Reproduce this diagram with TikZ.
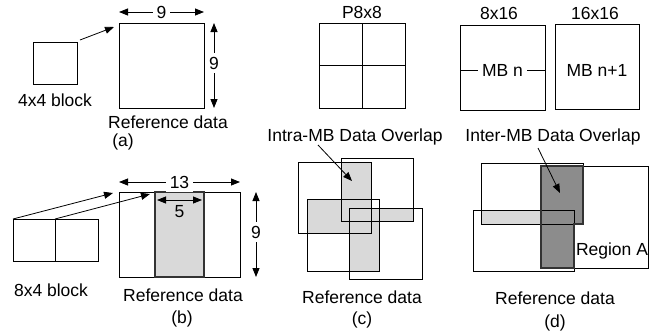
\documentclass[tikz,border=0pt]{standalone}
\usepackage{fontspec}
\setmainfont{Liberation Sans}
\usetikzlibrary{arrows.meta}
\begin{document}
\begin{tikzpicture}[x=1pt,y=-1pt,
  every node/.style={font=\fontsize{17.5}{20}\selectfont, inner sep=0pt},
  box/.style={draw=black, line width=0.9pt, fill=none},
  arr/.style={-{Triangle[length=9pt,width=7pt]}, line width=0.8pt},
  dim/.style={{Triangle[length=9pt,width=7pt]}-{Triangle[length=9pt,width=7pt]}, line width=0.8pt},
  lab/.style={fill=white, inner sep=4pt},
  lgray/.style={fill=black!15},
  dgray/.style={fill=black!45},
  ovl/.style={draw=black!80, line width=1.3pt}]
\useasboundingbox (0,0) rectangle (656,333);

% ---------- (a)
\draw[box] (33,42) rectangle (77,84);
\coordinate (sa) at (80,40);
\coordinate (ta) at (114,27);
\draw[arr] (sa) -- (ta);
\draw[box] (119,23) rectangle (204,108);
\coordinate (ah1) at (119,12); \coordinate (ah2) at (204,12);
\draw[dim] (ah1) -- (ah2);
\node[lab] (a9h) at (161.5,12) {9};
\coordinate (av1) at (214,23); \coordinate (av2) at (214,108);
\draw[dim] (av1) -- (av2);
\node[lab] (a9v) at (214,63) {9};
\node (a4x4) at (55,100) {4x4 block};
\node (aref) at (168,122) {Reference data};
\node (acap) at (123,142) {(a)};

% ---------- (b)
\draw[box] (13,219) rectangle (55,261);
\draw[box] (55,219) rectangle (98,261);
\draw[box] (119,192) rectangle (240,277);
\draw[lgray, ovl] (155,192) rectangle (204,277);
\coordinate (bs1) at (13,219); \coordinate (bt1) at (113,193);
\coordinate (bs2) at (55,219); \coordinate (bt2) at (150,194);
\draw[arr] (bs1) -- (bt1);
\draw[arr] (bs2) -- (bt2);
\coordinate (bh1) at (119,182); \coordinate (bh2) at (240,182);
\draw[dim] (bh1) -- (bh2);
\node[lab] (b13) at (179.5,182) {13};
\coordinate (b51) at (157,200); \coordinate (b52) at (202,200);
\draw[dim] (b51) -- (b52);
\node (b5) at (179.5,212) {5};
\coordinate (bv1) at (256,192); \coordinate (bv2) at (256,277);
\draw[dim] (bv1) -- (bv2);
\node[lab] (b9v) at (256,232) {9};
\node (b8x4) at (51,290) {8x4 block};
\node (bref) at (183,295) {Reference data};
\node (bcap) at (182,319) {(b)};

% ---------- (c)
\node (cp) at (362,12) {P8x8};
\draw[box] (319,23) rectangle (405,108);
\draw[box] (362,23) -- (362,108);
\draw[box] (319,65.5) -- (405,65.5);
\node (cintra) at (355,137) {Intra-MB Data Overlap};
% overlap fills
\fill[lgray] (341,162) rectangle (371,221);
\fill[lgray] (307,199) rectangle (371,233);
\fill[lgray] (349,208) rectangle (413,221);
\fill[lgray] (349,208) rectangle (379,271);
% outlines
\draw[box] (298,162) rectangle (371,233);
\draw[box] (341,158) rectangle (413,221);
\draw[box] (307,199) rectangle (379,271);
\draw[box] (349,208) rectangle (422,279);
\coordinate (cs) at (318,145); \coordinate (ct) at (352,181);
\draw[arr] (cs) -- (ct);
\node (cref) at (362,297) {Reference data};
\node (ccap) at (362,320) {(c)};

% ---------- (d)
\node (d816) at (499,13) {8x16};
\node (d1616) at (595,13) {16x16};
\draw[box] (460,25) rectangle (545,110);
\draw[box] (460,70) -- (545,70);
\node[lab] (dmbn) at (502.5,70) {MB n};
\draw[box] (555,24) rectangle (639,109);
\node (dmbn1) at (597,70) {MB n+1};
\node (dinter) at (553,137) {Inter-MB Data Overlap};
\fill[lgray] (481,210) rectangle (574,224);
\fill[dgray] (541,166) rectangle (583,224);
\fill[dgray] (541,210) rectangle (574,268);
\draw[box] (481,163) rectangle (583,224);
\draw[box] (541,166) rectangle (648,268);
\draw[box] (473,210) rectangle (574,271);
\draw[ovl] (541,166) -- (583,166) -- (583,224) -- (574,224) -- (574,268) -- (541,268) -- cycle;
\coordinate (ds) at (538,148); \coordinate (dt) at (560,193);
\draw[arr] (ds) -- (dt);
\node (dreg) at (612,251) {Region A};
\node (dref) at (555,298) {Reference data};
\node (dcap) at (555,323) {(d)};
\end{tikzpicture}
\end{document}
